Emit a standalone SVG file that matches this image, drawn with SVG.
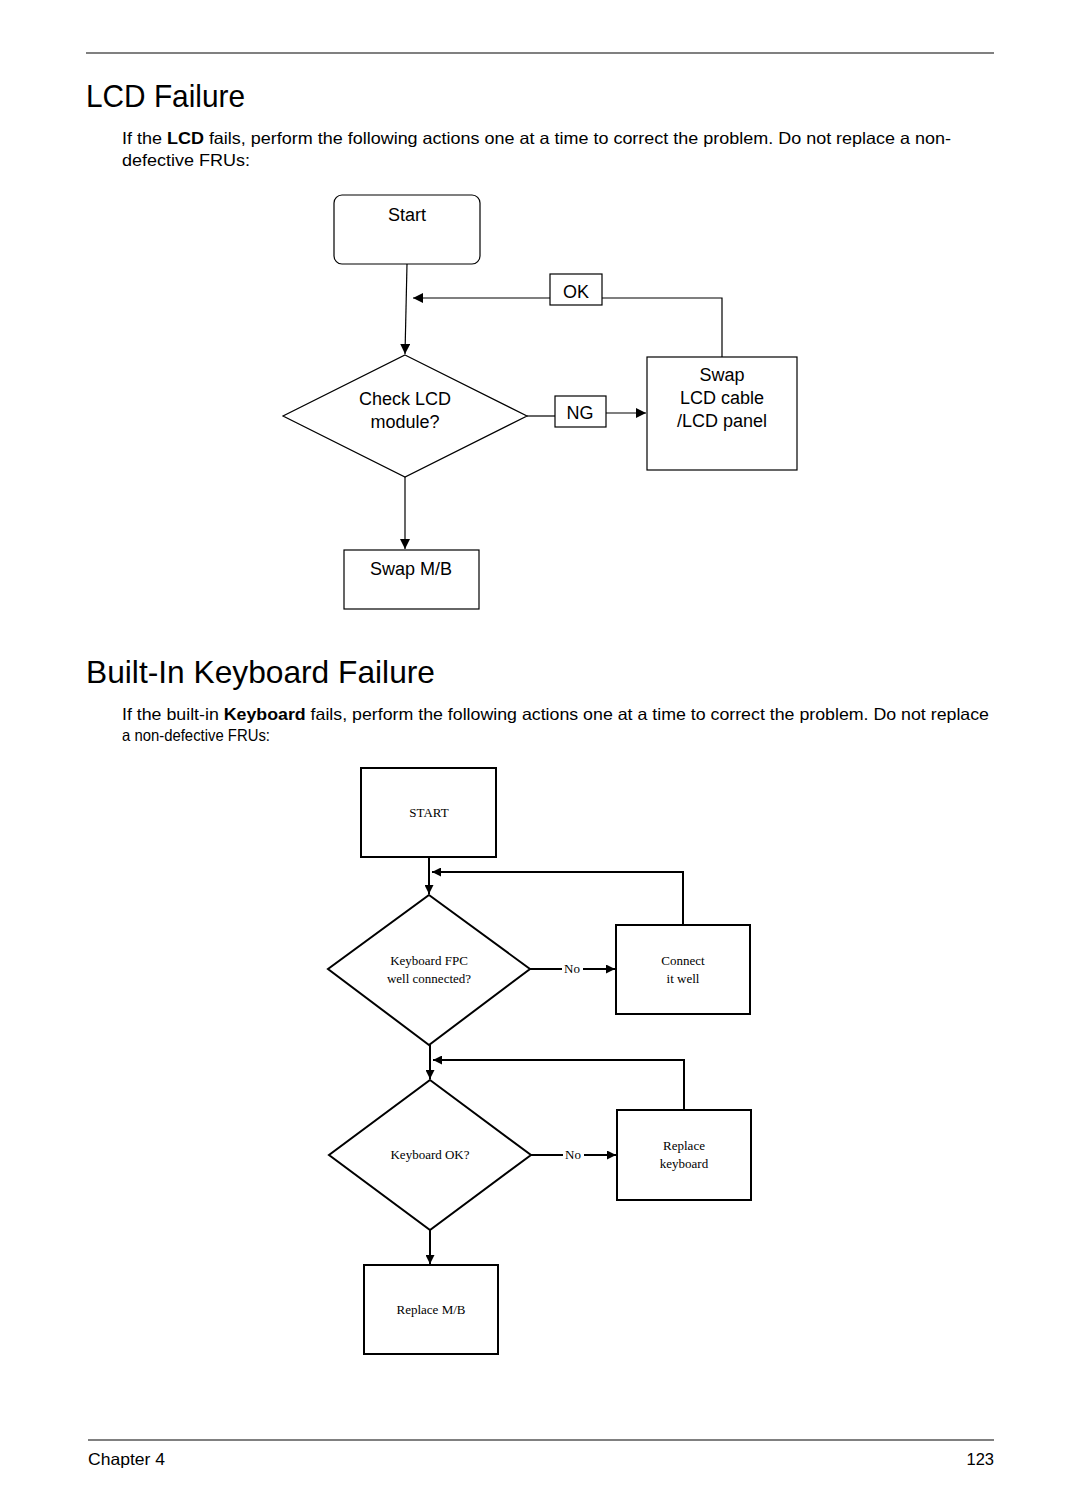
<svg xmlns="http://www.w3.org/2000/svg" width="1080" height="1512" viewBox="0 0 1080 1512">
<style>
.h{font-family:"Liberation Sans",Arial,sans-serif;font-size:32px;fill:#000}
.p{font-family:"Liberation Sans",Arial,sans-serif;font-size:16.5px;fill:#000}
.l{font-family:"Liberation Sans",Arial,sans-serif;font-size:18px;fill:#000;text-anchor:middle}
.k{font-family:"Liberation Serif","Times New Roman",serif;font-size:13px;fill:#000;text-anchor:middle}
.s1{fill:#fff;stroke:#000;stroke-width:1.2}
.s2{fill:#fff;stroke:#000;stroke-width:2}
.c1{fill:none;stroke:#000;stroke-width:1.2}
.c2{fill:none;stroke:#000;stroke-width:2}
.rule{stroke:#808080;stroke-width:2}
</style>
<defs>
<marker id="a1" viewBox="0 0 10 10" refX="10" refY="5" markerWidth="10" markerHeight="10" markerUnits="userSpaceOnUse" orient="auto"><path d="M0,0 L10,5 L0,10 z" fill="#000"/></marker>
<marker id="a2" viewBox="0 0 10 10" refX="10" refY="5" markerWidth="9" markerHeight="9" markerUnits="userSpaceOnUse" orient="auto"><path d="M0,0 L10,5 L0,10 z" fill="#000"/></marker>
</defs>
<rect width="1080" height="1512" fill="#fff"/>
<line class="rule" x1="86" y1="53" x2="994" y2="53"/>
<text class="h" x="86" y="107" textLength="159" lengthAdjust="spacingAndGlyphs">LCD Failure</text>
<text class="p" x="122" y="144" textLength="829" lengthAdjust="spacingAndGlyphs">If the <tspan font-weight="bold">LCD</tspan> fails, perform the following actions one at a time to correct the problem. Do not replace a non-</text>
<text class="p" x="122" y="166" textLength="128" lengthAdjust="spacingAndGlyphs">defective FRUs:</text>

<g id="lcd-connectors">
<path class="c1" d="M407,264 L405,354" marker-end="url(#a1)"/>
<path class="c1" d="M722,357 L722,298 L602,298"/>
<path class="c1" d="M550,298 L413,298" marker-end="url(#a1)"/>
<path class="c1" d="M527,416 L555,416"/>
<path class="c1" d="M606,413 L646,413" marker-end="url(#a1)"/>
<path class="c1" d="M405,477 L405,549" marker-end="url(#a1)"/>
</g>
<g id="lcd-start"><rect class="s1" x="334" y="195" width="146" height="69" rx="8"/><text class="l" x="407" y="221">Start</text></g>
<g id="lcd-ok"><rect class="s1" x="550" y="274" width="52" height="31"/><text class="l" x="576" y="298">OK</text></g>
<g id="lcd-check"><polygon class="s1" points="405,355 527,416 405,477 283,416"/><text class="l" x="405" y="405">Check LCD</text><text class="l" x="405" y="428">module?</text></g>
<g id="lcd-ng"><rect class="s1" x="555" y="396" width="51" height="31"/><text class="l" x="580" y="419">NG</text></g>
<g id="lcd-swap"><rect class="s1" x="647" y="357" width="150" height="113"/><text class="l" x="722" y="381">Swap</text><text class="l" x="722" y="404">LCD cable</text><text class="l" x="722" y="427">/LCD panel</text></g>
<g id="lcd-swapmb"><rect class="s1" x="344" y="550" width="135" height="59"/><text class="l" x="411" y="575">Swap M/B</text></g>

<text class="h" x="86" y="683" textLength="349" lengthAdjust="spacingAndGlyphs">Built-In Keyboard Failure</text>
<text class="p" x="122" y="720" textLength="867" lengthAdjust="spacingAndGlyphs">If the built-in <tspan font-weight="bold">Keyboard</tspan> fails, perform the following actions one at a time to correct the problem. Do not replace</text>
<text class="p" x="122" y="741" textLength="148" lengthAdjust="spacingAndGlyphs">a non-defective FRUs:</text>

<g id="kb-connectors">
<path class="c2" d="M429,858 L429,894" marker-end="url(#a2)"/>
<path class="c2" d="M683,925 L683,872 L432,872" marker-end="url(#a2)"/>
<path class="c2" d="M530,969 L562,969"/>
<path class="c2" d="M583,969 L615,969" marker-end="url(#a2)"/>
<path class="c2" d="M430,1045 L430,1079" marker-end="url(#a2)"/>
<path class="c2" d="M684,1110 L684,1060 L433,1060" marker-end="url(#a2)"/>
<path class="c2" d="M531,1155 L563,1155"/>
<path class="c2" d="M584,1155 L616,1155" marker-end="url(#a2)"/>
<path class="c2" d="M430,1230 L430,1264" marker-end="url(#a2)"/>
<text class="k" x="572" y="973">No</text>
<text class="k" x="573" y="1159">No</text>
</g>
<g id="kb-start"><rect class="s2" x="361" y="768" width="135" height="89"/><text class="k" x="429" y="817">START</text></g>
<g id="kb-fpc"><polygon class="s2" points="429,895 530,969 429,1045 328,969"/><text class="k" x="429" y="965">Keyboard FPC</text><text class="k" x="429" y="983">well connected?</text></g>
<g id="kb-connect"><rect class="s2" x="616" y="925" width="134" height="89"/><text class="k" x="683" y="965">Connect</text><text class="k" x="683" y="983">it well</text></g>
<g id="kb-ok"><polygon class="s2" points="430,1080 531,1155 430,1230 329,1155"/><text class="k" x="430" y="1159">Keyboard OK?</text></g>
<g id="kb-replace"><rect class="s2" x="617" y="1110" width="134" height="90"/><text class="k" x="684" y="1150">Replace</text><text class="k" x="684" y="1168">keyboard</text></g>
<g id="kb-mb"><rect class="s2" x="364" y="1265" width="134" height="89"/><text class="k" x="431" y="1314">Replace M/B</text></g>

<line class="rule" x1="88" y1="1440" x2="994" y2="1440"/>
<text class="p" x="88" y="1465" textLength="77" lengthAdjust="spacingAndGlyphs">Chapter 4</text>
<text class="p" x="994" y="1465" text-anchor="end">123</text>
</svg>
